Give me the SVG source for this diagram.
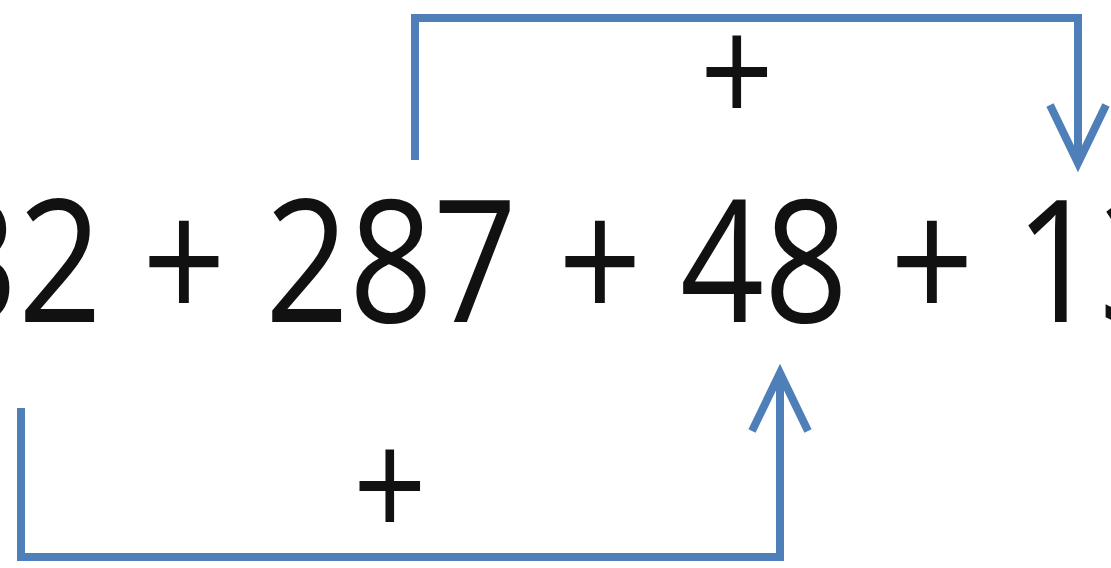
<svg xmlns="http://www.w3.org/2000/svg" width="1111" height="568" viewBox="0 0 1111 568">
  <style>
    .num { font-family: "Open Sans", "Liberation Sans", sans-serif; font-size: 147px; fill: #111; text-anchor: middle; }
    .lbl { font-family: "Open Sans", "Liberation Sans", sans-serif; font-size: 129px; fill: #111; text-anchor: middle; }
    .conn { fill: none; stroke: #4f7fb8; stroke-width: 8; stroke-linejoin: miter; stroke-linecap: butt; }
  </style>
  <defs>
    <marker id="vhead" markerUnits="userSpaceOnUse" markerWidth="80" markerHeight="80" viewBox="-70 -40 80 80" refX="0" refY="0" orient="auto" overflow="visible">
      <path d="M-58,-28 L0,0 L-58,28" fill="none" stroke="#4f7fb8" stroke-width="8" stroke-linejoin="miter"/>
    </marker>
  </defs>
  <rect width="1111" height="568" fill="#ffffff"/>
  <g id="connectors">
    <path class="conn" d="M415,160 V18 H1078 V163" marker-end="url(#vhead)"/>
    <path class="conn" d="M21,408 V557 H780 V373" marker-end="url(#vhead)"/>
  </g>
  <g id="labels">
    <g id="label-top" transform="translate(737,125) scale(1,1.16)"><text class="lbl" x="0" y="0">+</text></g>
    <g id="label-bottom" transform="translate(390,539) scale(1,1.16)"><text class="lbl" x="0" y="0">+</text></g>
  </g>
  <g id="expression" transform="translate(0,322) scale(1,1.16)">
    <g id="n32"><text class="num" x="18" y="0">32</text></g>
    <g id="op1"><text class="num" x="184" y="0">+</text></g>
    <g id="n287"><text class="num" x="391" y="0">287</text></g>
    <g id="op2"><text class="num" x="600" y="0">+</text></g>
    <g id="n48"><text class="num" x="764" y="0">48</text></g>
    <g id="op3"><text class="num" x="932" y="0">+</text></g>
    <g id="n13"><text class="num" x="1099" y="0">13</text></g>
  </g>
</svg>
